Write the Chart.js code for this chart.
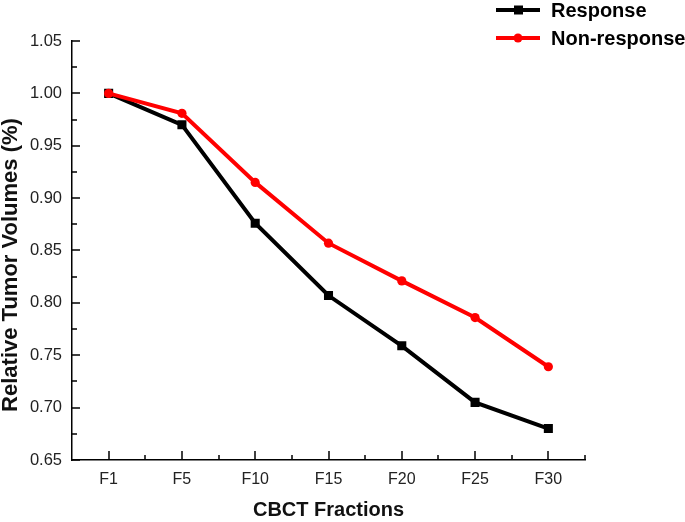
<!DOCTYPE html>
<html>
<head>
<meta charset="utf-8">
<script src="https://cdn.jsdelivr.net/npm/chart.js@4.4.0/dist/chart.umd.min.js"></script>
<style>
  html, body { margin: 0; padding: 0; background: #fff; }
  #wrap { width: 685px; height: 522px; position: relative; }
</style>
</head>
<body>
<div id="wrap"><canvas id="volChart"></canvas></div>
<script>
// data
const fractions = ["F1", "F5", "F10", "F15", "F20", "F25", "F30"];
const response = [1.000, 0.970, 0.876, 0.807, 0.759, 0.705, 0.680];
const nonResponse = [1.000, 0.981, 0.915, 0.857, 0.821, 0.786, 0.739];
const seriesNames = ["Response", "Non-response"];
const seriesColors = ["#000000", "#ff0000"];
const seriesMarkers = ["rect", "circle"];
const yTitle = "Relative Tumor Volumes (%)";

const FONT = "'Liberation Sans', Arial, sans-serif";

// inward major/minor ticks like the original plot
const tickPlugin = {
    id: "innerTicks",
    afterDraw(chart) {
        const ctx = chart.ctx;
        const x = chart.scales.x, y = chart.scales.y;
        const area = chart.chartArea;
        ctx.save();
        ctx.strokeStyle = "#000";
        ctx.lineWidth = 1.5;
        ctx.beginPath();
        for (let v = 0.65; v <= 1.0501; v += 0.025) {
            const py = Math.round(y.getPixelForValue(v));
            const major = Math.abs(Math.round(v * 20) - v * 20) < 1e-6;
            ctx.moveTo(area.left, py);
            ctx.lineTo(area.left + (major ? 8 : 5), py);
        }
        for (let i = 0; i < fractions.length; i++) {
            const px = Math.round(x.getPixelForTick(i));
            ctx.moveTo(px, area.bottom);
            ctx.lineTo(px, area.bottom - 9);
            const bx = i < fractions.length - 1
                ? Math.round((x.getPixelForTick(i) + x.getPixelForTick(i + 1)) / 2)
                : Math.round(area.right);
            ctx.moveTo(bx, area.bottom);
            ctx.lineTo(bx, area.bottom - 5);
        }
        ctx.stroke();

        // y axis title, drawn by hand so it sits where the original has it
        ctx.translate(11, 265);
        ctx.rotate(-Math.PI / 2);
        ctx.fillStyle = "#111";
        ctx.font = "bold 22px " + FONT;
        ctx.textAlign = "center";
        ctx.textBaseline = "middle";
        ctx.fillText(yTitle, 0, 0);
        ctx.restore();
    }
};

// legend in the top right corner
const legendPlugin = {
    id: "cornerLegend",
    afterDraw(chart) {
        const ctx = chart.ctx;
        ctx.save();
        seriesNames.forEach(function (name, i) {
            const ly = 10 + i * 28;
            const col = seriesColors[i];
            ctx.strokeStyle = col;
            ctx.lineWidth = 4;
            ctx.beginPath();
            ctx.moveTo(496, ly);
            ctx.lineTo(540, ly);
            ctx.stroke();
            ctx.fillStyle = col;
            ctx.beginPath();
            if (seriesMarkers[i] === "rect") {
                ctx.rect(514, ly - 4.5, 9, 9);
            } else {
                ctx.arc(518, ly, 4.5, 0, Math.PI * 2);
            }
            ctx.fill();
            ctx.fillStyle = "#000";
            ctx.font = "bold 20px " + FONT;
            ctx.textBaseline = "middle";
            ctx.textAlign = "left";
            ctx.fillText(name, 551, ly + 1);
        });
        ctx.restore();
    }
};

const ctx = document.getElementById("volChart").getContext("2d");
new Chart(ctx, {
    type: "line",
    data: {
        labels: fractions,
        // red series first so it is painted over the black one
        datasets: [response, nonResponse].map(function (vals, i) {
            return {
                label: seriesNames[i],
                data: vals,
                borderColor: seriesColors[i],
                backgroundColor: seriesColors[i],
                borderWidth: 4,
                pointStyle: seriesMarkers[i],
                pointRadius: i === 0 ? 6.4 : 4.6,
                pointBorderWidth: 0,
                tension: 0,
                fill: false
            };
        }).reverse()
    },
    options: {
        responsive: true,
        maintainAspectRatio: false,
        animation: false,
        layout: { padding: { top: 41, right: 100, left: 0, bottom: 0 } },
        plugins: {
            legend: { display: false },
            tooltip: { enabled: false }
        },
        scales: {
            x: {
                type: "category",
                offset: true,
                grid: { display: false, drawTicks: false, offset: true },
                border: { display: true, color: "#000", width: 1.5 },
                ticks: {
                    padding: 10,
                    color: "#222",
                    font: { family: FONT, size: 16 }
                },
                title: {
                    display: true,
                    text: "CBCT Fractions",
                    color: "#111",
                    padding: { top: 0, bottom: 0 },
                    font: { family: FONT, size: 20, weight: "bold" }
                },
                afterFit(scale) { scale.height = 62; }
            },
            y: {
                min: 0.65,
                max: 1.05,
                grid: { display: false, drawTicks: false },
                border: { display: true, color: "#000", width: 1.5 },
                ticks: {
                    stepSize: 0.05,
                    padding: 10,
                    color: "#222",
                    font: { family: FONT, size: 16.5 },
                    callback: function (v) { return Number(v).toFixed(2); }
                },
                afterFit(scale) { scale.width = 72; }
            }
        }
    },
    plugins: [tickPlugin, legendPlugin]
});
</script>
</body>
</html>
